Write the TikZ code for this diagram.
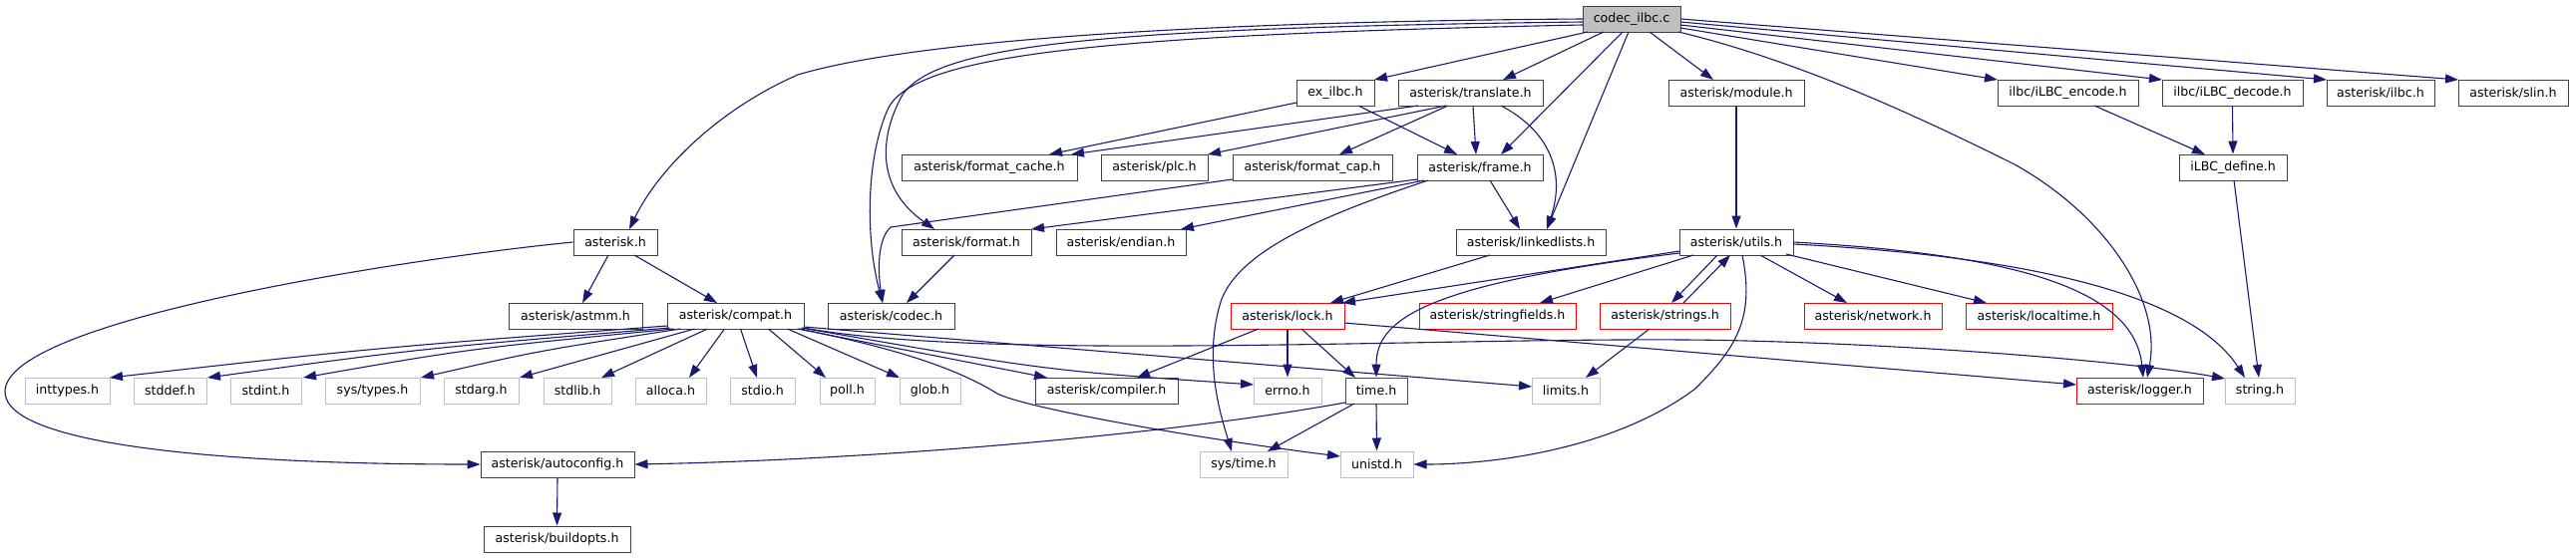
\documentclass[tikz,border=0pt]{standalone}
\usepackage{fontspec}
\setmainfont{DejaVu Sans}
\usetikzlibrary{arrows.meta,calc}
\definecolor{edgec}{HTML}{191970}
\definecolor{nodeb}{HTML}{404040}
\definecolor{nodeg}{HTML}{BFBFBF}
\begin{document}
\begin{tikzpicture}[x=1pt,y=-1pt,
  box/.style={draw=nodeb, fill=white, line width=1pt, minimum height=26pt, inner sep=0pt, font=\fontsize{12.6}{14}\selectfont, text=black},
  gbox/.style={box, draw=nodeg},
  rbox/.style={box, draw=red},
  edge/.style={draw=edgec, line width=1.1pt, -{Triangle[length=13pt,width=9pt]}}]
\useasboundingbox (0,0) rectangle (2583,560);
% row 1
\node[box, fill=nodeg, minimum width=98pt] (main) at (1636,19) {codec\_ilbc.c};
% row 2
\node[box, minimum width=78pt] (exilbc) at (1339,93) {ex\_ilbc.h};
\node[box, minimum width=145pt] (translate) at (1474.5,93) {asterisk/translate.h};
\node[box, minimum width=136pt] (module) at (1741,93) {asterisk/module.h};
\node[box, minimum width=141pt] (encode) at (2073.5,93) {ilbc/iLBC\_encode.h};
\node[box, minimum width=141pt] (decode) at (2238.5,93) {ilbc/iLBC\_decode.h};
\node[box, minimum width=108pt] (ilbch) at (2387,93) {asterisk/ilbc.h};
\node[box, minimum width=110pt] (slin) at (2520,93) {asterisk/slin.h};
% row 3
\node[box, minimum width=176pt] (fcache) at (992,168) {asterisk/format\_cache.h};
\node[box, minimum width=107pt] (plc) at (1157.5,168) {asterisk/plc.h};
\node[box, minimum width=160pt] (fcap) at (1316,168) {asterisk/format\_cap.h};
\node[box, minimum width=126pt] (frame) at (1484,168) {asterisk/frame.h};
\node[box, minimum width=108pt] (define) at (2239,168) {iLBC\_define.h};
% row 4
\node[box, minimum width=84pt] (asteriskh) at (617,243) {asterisk.h};
\node[box, minimum width=130pt] (format) at (969,243) {asterisk/format.h};
\node[box, minimum width=130pt] (endian) at (1124,243) {asterisk/endian.h};
\node[box, minimum width=150pt] (linked) at (1535,243) {asterisk/linkedlists.h};
\node[box, minimum width=114pt] (utils) at (1741,243) {asterisk/utils.h};
% row 5
\node[box, minimum width=134pt] (astmm) at (577,317) {asterisk/astmm.h};
\node[box, minimum width=137pt] (compat) at (737.5,317) {asterisk/compat.h};
\node[box, minimum width=127pt] (codec) at (893.5,317) {asterisk/codec.h};
\node[rbox, minimum width=114pt] (lock) at (1291,317) {asterisk/lock.h};
\node[rbox, minimum width=157pt] (sfields) at (1501.5,317) {asterisk/stringfields.h};
\node[rbox, minimum width=131pt] (strings) at (1669.5,317) {asterisk/strings.h};
\node[rbox, minimum width=138pt] (network) at (1878,317) {asterisk/network.h};
\node[rbox, minimum width=147pt] (localtime) at (2044.5,317) {asterisk/localtime.h};
% row 6
\node[gbox, minimum width=85pt] (inttypes) at (67.5,392) {inttypes.h};
\node[gbox, minimum width=73pt] (stddef) at (170.5,392) {stddef.h};
\node[gbox, minimum width=71pt] (stdint) at (266.5,392) {stdint.h};
\node[gbox, minimum width=95pt] (systypes) at (373.5,392) {sys/types.h};
\node[gbox, minimum width=75pt] (stdarg) at (482.5,392) {stdarg.h};
\node[gbox, minimum width=68pt] (stdlib) at (579,392) {stdlib.h};
\node[gbox, minimum width=71pt] (alloca) at (672.5,392) {alloca.h};
\node[gbox, minimum width=65pt] (stdio) at (764.5,392) {stdio.h};
\node[gbox, minimum width=55pt] (poll) at (849.5,392) {poll.h};
\node[gbox, minimum width=61pt] (glob) at (932.5,392) {glob.h};
\node[box, minimum width=143pt] (compiler) at (1109.5,392) {asterisk/compiler.h};
\node[gbox, minimum width=68pt] (errno) at (1291,392) {errno.h};
\node[rbox, minimum width=62pt] (time) at (1380,392) {time.h};
\node[gbox, minimum width=68pt] (limits) at (1570,392) {limits.h};
\node[rbox, minimum width=127pt] (logger) at (2145.5,392) {asterisk/logger.h};
\node[gbox, minimum width=70pt] (string) at (2266,392) {string.h};
% row 7
\node[box, minimum width=154pt] (autoconfig) at (559,466) {asterisk/autoconfig.h};
\node[gbox, minimum width=88pt] (systime) at (1247,466) {sys/time.h};
\node[gbox, minimum width=73pt] (unistd) at (1380.5,466) {unistd.h};
% row 8
\node[box, minimum width=147pt] (buildopts) at (558.5,541) {asterisk/buildopts.h};

% edges from codec_ilbc.c
\draw[edge] ($(main)+(-49,0)$) .. controls (1150,22) and (900,45) .. (800,75) .. controls (720,110) and (660,170) .. ($(asteriskh)+(14,-13)$);
\draw[edge] ($(main)+(-49,3)$) .. controls (1100,28) and (940,45) .. (905,95) .. controls (880,140) and (880,190) .. ($(format)+(-32,-13)$);
\draw[edge] ($(main)+(-49,6)$) .. controls (1100,35) and (915,55) .. (890,110) .. controls (868,160) and (868,240) .. ($(codec)+(-8.5,-13)$);
\draw[edge] ($(main)+(-44,13)$) -- ($(exilbc)+(39,-13)$);
\draw[edge] ($(main)+(-28,13)$) -- ($(translate)+(32.5,-13)$);
\draw[edge] ($(main)+(-9,13)$) -- ($(frame)+(21,-13)$);
\draw[edge] ($(main)+(-3,13)$) -- ($(linked)+(16,-13)$);
\draw[edge] ($(main)+(18,13)$) -- ($(module)+(-23,-13)$);
\draw[edge] ($(main)+(49,9)$) -- ($(encode)+(-70.5,-13)$);
\draw[edge] ($(main)+(49,6)$) -- ($(decode)+(-70.5,-13)$);
\draw[edge] ($(main)+(49,3)$) -- ($(ilbch)+(-54,-13)$);
\draw[edge] ($(main)+(49,0)$) -- ($(slin)+(-55,-13)$);
\draw[edge] ($(main)+(47,13)$) .. controls (1800,60) and (1920,115) .. (2020,165) .. controls (2110,215) and (2168,300) .. ($(logger)+(7.5,-13)$);
% row 2 sources
\draw[edge] ($(exilbc)+(-39,10)$) -- ($(fcache)+(60,-13)$);
\draw[edge] ($(exilbc)+(23,13)$) -- ($(frame)+(-23,-13)$);
\draw[edge] ($(translate)+(-52.5,13)$) -- ($(fcache)+(82,-13)$);
\draw[edge] ($(translate)+(-24.5,13)$) -- ($(plc)+(53.5,-13)$);
\draw[edge] ($(translate)+(-22.5,13)$) -- ($(fcap)+(27,-13)$);
\draw[edge] ($(translate)+(2.5,13)$) -- ($(frame)+(-4,-13)$);
\draw[edge] ($(translate)+(30.5,13)$) .. controls (1560,135) and (1568,180) .. ($(linked)+(16,-13)$);
\draw[edge] (module.south) -- (utils.north);
\draw[edge] ($(encode)+(26.5,13)$) -- ($(define)+(-28,-13)$);
\draw[edge] (decode.south) -- (define.north);
% row 3 sources
\draw[edge] ($(fcap)+(-80,12)$) -- (893,228) .. controls (880,240) and (880,270) .. ($(codec)+(-8.5,-13)$);
\draw[edge] ($(frame)+(-63,12)$) -- ($(format)+(65,-13)$);
\draw[edge] ($(frame)+(-56,13)$) -- ($(endian)+(60,-13)$);
\draw[edge] ($(frame)+(10,13)$) -- ($(linked)+(-11,-13)$);
\draw[edge] ($(frame)+(-52,13)$) .. controls (1330,215) and (1245,250) .. (1225,300) .. controls (1205,360) and (1225,420) .. ($(systime)+(-12,-13)$);
\draw[edge] ($(define)+(1,13)$) -- ($(string)+(-1,-13)$);
% row 4 sources
\draw[edge] ($(format)+(-12,13)$) -- ($(codec)+(15.5,-13)$);
\draw[edge] ($(linked)+(-41,13)$) -- ($(lock)+(43,-13)$);
\draw[edge] ($(utils)+(-57,9)$) -- ($(lock)+(55,-13)$);
\draw[edge] ($(utils)+(-57,11)$) .. controls (1430,285) and (1380,320) .. (time.north);
\draw[edge] ($(utils)+(-43,13)$) -- ($(sfields)+(42.5,-13)$);
\draw[edge] ($(utils)+(-19,13)$) -- ($(strings)+(6.5,-13)$);
\draw[edge] ($(strings)+(18.5,-13)$) -- ($(utils)+(-6,13)$);
\draw[edge] ($(utils)+(24,13)$) -- ($(network)+(-26,-13)$);
\draw[edge] ($(utils)+(50,12)$) -- ($(localtime)+(-52.5,-13)$);
\draw[edge] ($(utils)+(57,0)$) .. controls (2020,255) and (2140,290) .. ($(logger)+(3.5,-13)$);
\draw[edge] ($(utils)+(57,2)$) .. controls (2050,258) and (2200,300) .. ($(string)+(-15,-13)$);
\draw[edge] ($(utils)+(6,13)$) .. controls (1760,320) and (1740,350) .. (1700,390) .. controls (1620,450) and (1500,466) .. (unistd.east);
\draw[edge] ($(asteriskh)+(-7,13)$) -- ($(astmm)+(7,-13)$);
\draw[edge] ($(asteriskh)+(19,13)$) -- ($(compat)+(-18.5,-13)$);
\draw[edge] (asteriskh.west) .. controls (420,258) and (5,320) .. (5,393) .. controls (5,450) and (250,466) .. (autoconfig.west);
% row 5 sources
\draw[edge] ($(lock)+(-29,13)$) -- ($(compiler)+(30.5,-13)$);
\draw[edge] (lock.south) -- (errno.north);
\draw[edge] ($(lock)+(14,13)$) -- ($(time)+(-21,-13)$);
\draw[edge] ($(lock)+(57,7)$) -- ($(logger)+(-63.5,-6)$);
\draw[edge] ($(strings)+(-15.5,13)$) -- ($(limits)+(20,-13)$);
\draw[edge] ($(compat)+(-68.5,10)$) .. controls (377,349) .. ($(inttypes)+(42.5,-13)$);
\draw[edge] ($(compat)+(-66,12)$) .. controls (420,350) .. ($(stddef)+(37.5,-13)$);
\draw[edge] ($(compat)+(-62,13)$) .. controls (470,350) .. ($(stdint)+(37.5,-13)$);
\draw[edge] ($(compat)+(-55,13)$) .. controls (540,352) .. ($(systypes)+(48.5,-13)$);
\draw[edge] ($(compat)+(-41,13)$) -- ($(stdarg)+(38.5,-13)$);
\draw[edge] ($(compat)+(-28,13)$) -- ($(stdlib)+(24,-13)$);
\draw[edge] ($(compat)+(-11,13)$) -- ($(alloca)+(18.5,-13)$);
\draw[edge] ($(compat)+(5,13)$) -- ($(stdio)+(-5.5,-13)$);
\draw[edge] ($(compat)+(33,13)$) -- ($(poll)+(-21.5,-13)$);
\draw[edge] ($(compat)+(52,13)$) -- ($(glob)+(-30.5,-13)$);
\draw[edge] ($(compat)+(62,13)$) -- ($(compiler)+(-59.5,-13)$);
\draw[edge] ($(compat)+(66,12)$) .. controls (1050,372) .. ($(errno)+(-34,-6)$);
\draw[edge] ($(compat)+(68.5,11)$) -- ($(limits)+(-34,-4)$);
\draw[edge] ($(compat)+(64,13)$) .. controls (900,350) and (960,370) .. (1000,395) .. controls (1030,410) and (1200,440) .. ($(unistd)+(-36.5,-8)$);
\draw[edge] ($(compat)+(68.5,12)$) .. controls (1000,365) and (1500,335) .. (1750,342) .. controls (1950,347) and (2150,365) .. ($(string)+(-35,-12)$);
% row 6/7 sources
\draw[edge] ($(time)+(-22,13)$) -- ($(systime)+(24,-13)$);
\draw[edge] (time.south) -- (unistd.north);
\draw[edge] ($(time)+(-31,12)$) .. controls (1150,440) and (850,462) .. (autoconfig.east);
\draw[edge] (autoconfig.south) -- (buildopts.north);
\end{tikzpicture}
\end{document}
